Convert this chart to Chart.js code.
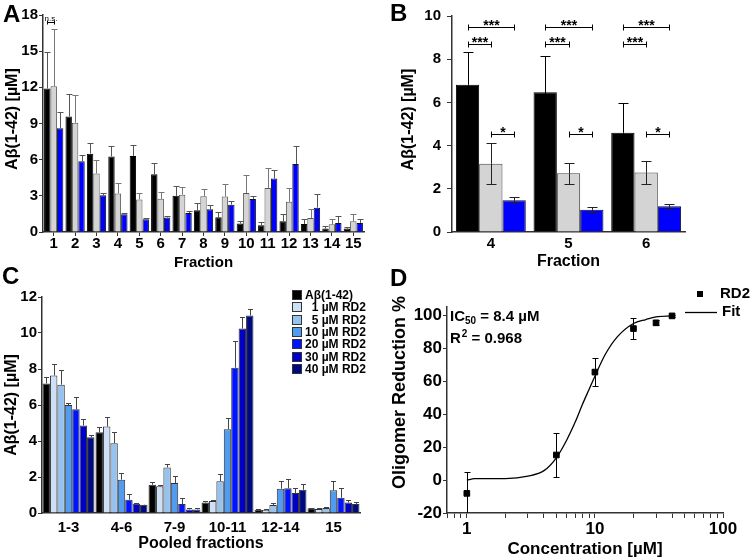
<!DOCTYPE html>
<html><head><meta charset="utf-8">
<script src="https://cdn.jsdelivr.net/npm/chart.js@4/dist/chart.umd.min.js"></script>
<style>
html,body{margin:0;padding:0;background:#fff;}
#wrap{position:relative;width:750px;height:559px;overflow:hidden;background:#fff;}
canvas{position:absolute;}
.lbl{position:absolute;font:bold 24px "Liberation Sans",Arial,sans-serif;line-height:24px;color:#000;}
</style></head><body>
<div id="wrap">
<canvas id="cA" width="375" height="270" style="left:0;top:0"></canvas>
<canvas id="cB" width="375" height="270" style="left:375px;top:0"></canvas>
<canvas id="cC" width="375" height="289" style="left:0;top:270px"></canvas>
<canvas id="cD" width="375" height="289" style="left:375px;top:270px"></canvas>
<div class="lbl" style="left:3px;top:2px">A</div>
<div class="lbl" style="left:390px;top:1px">B</div>
<div class="lbl" style="left:2px;top:264px">C</div>
<div class="lbl" style="left:390px;top:266px">D</div>
</div>
<script>
// ---------- Panel A ----------
const fractionsA = ['1','2','3','4','5','6','7','8','9','10','11','12','13','14','15'];
const abA     = [11.9, 9.58, 6.5, 6.26, 6.3, 4.8, 3.0, 1.8, 1.22, 0.7, 0.55, 0.89, 0.66, 0.28, 0.28];
const abAErr  = [3.0, 1.9, 0.9, 0.84, 0.95, 0.95, 0.8, 0.6, 0.44, 0.2, 0.25, 0.58, 0.39, 0.22, 0.14];
const grayA   = [12.1, 9.06, 4.85, 3.2, 2.7, 2.75, 3.1, 2.96, 2.94, 3.24, 3.66, 2.5, 1.16, 0.64, 0.89];
const grayAErr= [4.7, 2.34, 1.15, 0.9, 0.55, 0.55, 0.65, 0.61, 1.06, 1.52, 1.69, 1.16, 0.72, 0.41, 0.63];
const blueA   = [8.6, 5.87, 3.05, 1.47, 1.05, 1.2, 1.58, 1.88, 2.27, 2.74, 4.43, 5.65, 2.02, 0.75, 0.75];
const blueAErr= [1.37, 0.53, 0.2, 0.13, 0.1, 0.1, 0.17, 0.36, 0.31, 0.22, 0.69, 1.47, 1.11, 0.55, 0.3];

// ---------- Panel B ----------
const fractionsB = ['4','5','6'];
const abB      = [6.82, 6.47, 4.6];
const abBErr   = [1.51, 1.66, 1.37];
const grayB    = [3.16, 2.72, 2.75];
const grayBErr = [0.95, 0.49, 0.54];
const blueB    = [1.47, 1.03, 1.19];
const blueBErr = [0.15, 0.12, 0.12];

// ---------- Panel C ----------
const pooled = ['1-3','4-6','7-9','10-11','12-14','15'];
const legendC = ['A\u03b2(1-42)','  1 \u00b5M RD2','  5 \u00b5M RD2','10 \u00b5M RD2','20 \u00b5M RD2','30 \u00b5M RD2','40 \u00b5M RD2'];
const cAb    = [7.2, 4.49, 1.57, 0.59, 0.18, 0.26];
const cAbErr = [0.37, 0.31, 0.13, 0.09, 0.04, 0.04];
const c1     = [7.64, 4.8, 1.48, 0.66, 0.18, 0.22];
const c1Err  = [0.66, 0.55, 0.07, 0.08, 0.03, 0.08];
const c5     = [7.13, 3.88, 2.53, 1.77, 0.44, 0.28];
const c5Err  = [0.81, 0.62, 0.2, 0.41, 0.11, 0.05];
const c10    = [6.0, 1.85, 1.66, 4.65, 1.35, 1.26];
const c10Err = [0.13, 0.4, 0.41, 0.65, 0.44, 0.53];
const c20    = [5.76, 0.74, 0.5, 8.07, 1.37, 0.85];
const c20Err = [0.7, 0.31, 0.31, 1.47, 0.51, 0.53];
const c30    = [4.86, 0.52, 0.2, 10.25, 1.11, 0.59];
const c30Err = [0.34, 0.03, 0.06, 0.65, 0.27, 0.15];
const c40    = [4.21, 0.46, 0.2, 10.97, 1.29, 0.5];
const c40Err = [0.15, 0.01, 0.06, 0.35, 0.31, 0.11];

// ---------- Panel D ----------
const concD   = [1, 5, 10, 20, 30, 40];
const reduceD = [-8.1, 15.2, 65.5, 91.9, 95.4, 99.6];
const reduceDErr = [13.1, 13.3, 8.3, 6.3, 1.5, 0.6];
const fitX = [1, 1.15, 2, 3, 4, 5, 6, 7, 8, 9, 10, 12, 15, 20, 25, 30, 40];
const fitY = [0, 0.8, 0.9, 2.4, 5.7, 13.5, 24, 35, 46, 55, 63, 76, 87, 95, 97.4, 99, 99.6];
const xTicksD = [0.7,0.8,0.9,1,2,3,4,5,6,7,8,9,10,20,30,40,50,60,70,80,90,100];
const xLabelsD = [1, 10, 100];
const icText = ['IC', '50', ' = 8.4 \u00b5M'];
const r2Text = ['R', '2', ' = 0.968'];

const FF = '"Liberation Sans", Arial, sans-serif';
Chart.defaults.font.family = FF;
Chart.defaults.font.weight = 'bold';
Chart.defaults.color = '#000';

function fix(w, h) {
  return s => {
    if (w != null) s.width = w;
    if (h != null) s.height = h;
    s.paddingLeft = 0; s.paddingRight = 0; s.paddingTop = 0; s.paddingBottom = 0;
  };
}

const errorBars = {
  id: 'errorBars',
  afterDatasetsDraw(chart) {
    const ctx = chart.ctx, ys = chart.scales.y, a = chart.chartArea;
    ctx.save();
    ctx.beginPath(); ctx.rect(a.left, a.top - 2, a.right - a.left, a.bottom - a.top + 2); ctx.clip();
    chart.data.datasets.forEach((ds, di) => {
      if (!ds.err) return;
      const meta = chart.getDatasetMeta(di);
      ctx.strokeStyle = ds.errColor || '#000';
      ctx.lineWidth = ds.errWidth || 1;
      meta.data.forEach((el, i) => {
        const e = ds.err[i];
        if (e == null) return;
        const raw = ds.data[i];
        const v = (typeof raw === 'object') ? raw.y : raw;
        const x = Math.round(el.x) + 0.5;
        const y0 = ys.getPixelForValue(v);
        const yu = Math.round(ys.getPixelForValue(v + e)) + 0.5;
        const yl = Math.round(ys.getPixelForValue(v - e)) + 0.5;
        const cap = ds.errCap || 3;
        ctx.beginPath();
        ctx.moveTo(x, y0); ctx.lineTo(x, yu);
        ctx.moveTo(x - cap, yu); ctx.lineTo(x + cap, yu);
        if (ds.errBoth) {
          ctx.moveTo(x, y0); ctx.lineTo(x, yl);
          ctx.moveTo(x - cap, yl); ctx.lineTo(x + cap, yl);
        }
        ctx.stroke();
      });
    });
    ctx.restore();
  }
};

function makeSig(items) {
  return {
    id: 'sig',
    afterDatasetsDraw(chart) {
      const ys = chart.scales.y, ctx = chart.ctx;
      ctx.save();
      ctx.strokeStyle = '#000'; ctx.fillStyle = '#000'; ctx.lineWidth = 1;
      items.forEach(it => {
        const x1 = Math.round(chart.getDatasetMeta(it.a).data[it.i].x) + 0.5;
        const x2 = Math.round(chart.getDatasetMeta(it.b).data[it.i].x) + 0.5;
        const y = Math.round(ys.getPixelForValue(it.y)) + 0.5;
        ctx.beginPath();
        ctx.moveTo(x1, y); ctx.lineTo(x2, y);
        ctx.moveTo(x1, y - it.h); ctx.lineTo(x1, y + it.h);
        ctx.moveTo(x2, y - it.h); ctx.lineTo(x2, y + it.h);
        ctx.stroke();
        ctx.font = it.font; ctx.textAlign = 'center'; ctx.textBaseline = 'alphabetic';
        ctx.fillText(it.text, (x1 + x2) / 2, y + it.dy);
      });
      ctx.restore();
    }
  };
}

const axisBorder = {color: '#333', width: 1.5};

// ---------- Chart A ----------
new Chart(document.getElementById('cA'), {
  type: 'bar',
  data: {
    labels: fractionsA,
    datasets: [
      {label: 'A\u03b2(1-42)', data: abA, err: abAErr, errColor: '#555', backgroundColor: '#000', borderColor: '#000', borderWidth: 1},
      {label: 'RD2 low', data: grayA, err: grayAErr, errColor: '#777', backgroundColor: '#d4d4d4', borderColor: '#555', borderWidth: 1},
      {label: 'RD2 high', data: blueA, err: blueAErr, errColor: '#555', backgroundColor: '#0000ff', borderColor: '#111', borderWidth: 1}
    ]
  },
  options: {
    responsive: false, animation: false, devicePixelRatio: 1,
    layout: {padding: {left: 0, top: 15, right: 11, bottom: 0}},
    datasets: {bar: {barPercentage: 1, categoryPercentage: 0.9}},
    plugins: {legend: {display: false}, tooltip: {enabled: false}},
    scales: {
      x: {
        afterFit: fix(null, 38), border: axisBorder,
        grid: {drawOnChartArea: false, offset: false, tickLength: 4, color: '#333'},
        ticks: {font: {size: 15, weight: 'bold', lineHeight: 1}, padding: 0, maxRotation: 0, autoSkip: false},
        title: {display: true, text: 'Fraction', font: {size: 15, weight: 'bold', lineHeight: 1}, padding: {top: 0, bottom: 0}}
      },
      y: {
        min: 0, max: 18, afterFit: fix(43, null), border: axisBorder,
        grid: {drawOnChartArea: false, tickLength: 4, color: '#333'},
        ticks: {stepSize: 3, font: {size: 15, weight: 'bold', lineHeight: 1}, padding: 1},
        title: {display: true, text: '  A\u03b2(1-42) [\u00b5M]', font: {size: 16, weight: 'bold', lineHeight: 1}, padding: {top: 5, bottom: 0}}
      }
    }
  },
  plugins: [errorBars, makeSig([{a: 0, b: 1, i: 0, y: 17.45, h: 2, text: 'n.s.', font: 'normal 8px ' + FF, dy: -2}])]
});

// ---------- Chart B ----------
const sigFont = 'bold 14px ' + FF;
new Chart(document.getElementById('cB'), {
  type: 'bar',
  data: {
    labels: fractionsB,
    datasets: [
      {label: 'A\u03b2(1-42)', data: abB, err: abBErr, errBoth: true, errCap: 5, errColor: '#000', backgroundColor: '#000', borderColor: '#000', borderWidth: 1},
      {label: 'RD2 low', data: grayB, err: grayBErr, errBoth: true, errCap: 5, errColor: '#222', backgroundColor: '#d4d4d4', borderColor: '#444', borderWidth: 1},
      {label: 'RD2 high', data: blueB, err: blueBErr, errBoth: true, errCap: 5, errColor: '#222', backgroundColor: '#0000ff', borderColor: '#111', borderWidth: 1}
    ]
  },
  options: {
    responsive: false, animation: false, devicePixelRatio: 1,
    layout: {padding: {left: 0, top: 16, right: 65, bottom: 0}},
    datasets: {bar: {barPercentage: 1, categoryPercentage: 0.9}},
    plugins: {legend: {display: false}, tooltip: {enabled: false}},
    scales: {
      x: {
        afterFit: fix(null, 38), border: axisBorder,
        grid: {drawOnChartArea: false, drawTicks: false},
        ticks: {font: {size: 15, weight: 'bold', lineHeight: 1}, padding: 4, maxRotation: 0},
        title: {display: true, text: 'Fraction', font: {size: 16, weight: 'bold', lineHeight: 1}, padding: {top: 0, bottom: 0}}
      },
      y: {
        min: 0, max: 10, afterFit: fix(77, null), border: axisBorder,
        grid: {drawOnChartArea: false, tickLength: 5, color: '#333'},
        ticks: {stepSize: 2, font: {size: 15, weight: 'bold', lineHeight: 1}, padding: 6},
        title: {display: true, text: '  A\u03b2(1-42) [\u00b5M]', font: {size: 16, weight: 'bold', lineHeight: 1}, padding: {top: 26, bottom: 0}}
      }
    }
  },
  plugins: [errorBars, makeSig([
    {a: 0, b: 2, i: 0, y: 9.49, h: 3, text: '***', font: sigFont, dy: 2},
    {a: 0, b: 1, i: 0, y: 8.72, h: 3, text: '***', font: sigFont, dy: 2},
    {a: 1, b: 2, i: 0, y: 4.55, h: 3, text: '*', font: sigFont, dy: 2},
    {a: 0, b: 2, i: 1, y: 9.49, h: 3, text: '***', font: sigFont, dy: 2},
    {a: 0, b: 1, i: 1, y: 8.72, h: 3, text: '***', font: sigFont, dy: 2},
    {a: 1, b: 2, i: 1, y: 4.55, h: 3, text: '*', font: sigFont, dy: 2},
    {a: 0, b: 2, i: 2, y: 9.49, h: 3, text: '***', font: sigFont, dy: 2},
    {a: 0, b: 1, i: 2, y: 8.72, h: 3, text: '***', font: sigFont, dy: 2},
    {a: 1, b: 2, i: 2, y: 4.55, h: 3, text: '*', font: sigFont, dy: 2}
  ])]
});

// ---------- Chart C ----------
const cColors = ['#000000', '#cde0f7', '#96c2f0', '#4f9cf0', '#0014ff', '#0000c8', '#000a80'];
const cSeries = [cAb, c1, c5, c10, c20, c30, c40];
const cErrs = [cAbErr, c1Err, c5Err, c10Err, c20Err, c30Err, c40Err];
const legendPluginC = {
  id: 'legendC',
  afterDraw(chart) {
    const a = chart.chartArea, ctx = chart.ctx;
    const x0 = Math.round(a.right - 68), y0 = a.top - 2;
    ctx.save();
    ctx.font = 'bold 12px ' + FF; ctx.textBaseline = 'middle'; ctx.textAlign = 'left';
    chart.data.datasets.forEach((ds, i) => {
      const y = Math.round(y0 + i * 12.3);
      ctx.fillStyle = ds.backgroundColor;
      ctx.fillRect(x0, y - 5, 10, 10);
      ctx.strokeStyle = '#333'; ctx.lineWidth = 1;
      ctx.strokeRect(x0 + 0.5, y - 4.5, 9, 9);
      ctx.fillStyle = '#000';
      ctx.fillText(ds.label, x0 + 13, y + 0.5);
    });
    ctx.restore();
  }
};
new Chart(document.getElementById('cC'), {
  type: 'bar',
  data: {
    labels: pooled,
    datasets: cSeries.map((s, i) => ({label: legendC[i], data: s, err: cErrs[i], errColor: '#444', errCap: 2.5,
      backgroundColor: cColors[i], borderColor: '#333', borderWidth: 1}))
  },
  options: {
    responsive: false, animation: false, devicePixelRatio: 1,
    layout: {padding: {left: 0, top: 27, right: 15, bottom: 0}},
    datasets: {bar: {barPercentage: 1, categoryPercentage: 0.98}},
    plugins: {legend: {display: false}, tooltip: {enabled: false}},
    scales: {
      x: {
        afterFit: fix(null, 46), border: axisBorder,
        grid: {drawOnChartArea: false, drawTicks: false},
        ticks: {font: {size: 15, weight: 'bold', lineHeight: 1}, padding: 7, maxRotation: 0},
        title: {display: true, text: 'Pooled fractions', font: {size: 16, weight: 'bold', lineHeight: 1}, padding: {top: 0, bottom: 7}}
      },
      y: {
        min: 0, max: 12, afterFit: fix(42, null), border: axisBorder,
        grid: {drawOnChartArea: false, tickLength: 4, color: '#333'},
        ticks: {stepSize: 2, font: {size: 15, weight: 'bold', lineHeight: 1}, padding: 1},
        title: {display: true, text: 'A\u03b2(1-42) [\u00b5M]', font: {size: 16, weight: 'bold', lineHeight: 1}, padding: {top: 4, bottom: 0}}
      }
    }
  },
  plugins: [errorBars, legendPluginC]
});

// ---------- Chart D ----------
const overlayD = {
  id: 'overlayD',
  afterDraw(chart) {
    const a = chart.chartArea, ctx = chart.ctx;
    ctx.save();
    ctx.fillStyle = '#000'; ctx.textBaseline = 'alphabetic'; ctx.textAlign = 'left';
    let x = a.left + 3, y = a.top + 14;
    ctx.font = 'bold 15px ' + FF; ctx.fillText(icText[0], x, y); x += ctx.measureText(icText[0]).width;
    ctx.font = 'bold 10px ' + FF; ctx.fillText(icText[1], x, y + 3); x += ctx.measureText(icText[1]).width;
    ctx.font = 'bold 15px ' + FF; ctx.fillText(icText[2], x, y);
    x = a.left + 3; y = a.top + 36;
    ctx.font = 'bold 15px ' + FF; ctx.fillText(r2Text[0], x, y); x += ctx.measureText(r2Text[0]).width + 1;
    ctx.font = 'bold 10px ' + FF; ctx.fillText(r2Text[1], x, y - 6); x += ctx.measureText(r2Text[1]).width;
    ctx.font = 'bold 15px ' + FF; ctx.fillText(r2Text[2], x, y);
    const lx = a.right;
    ctx.fillRect(Math.round(lx - 26), Math.round(a.top - 16), 6, 6);
    ctx.font = 'bold 15px ' + FF; ctx.textBaseline = 'middle';
    ctx.fillText(chart.data.datasets[0].label, lx - 3, a.top - 13);
    ctx.strokeStyle = '#000'; ctx.lineWidth = 1.3;
    ctx.beginPath(); ctx.moveTo(lx - 38, a.top + 5.5); ctx.lineTo(lx - 6, a.top + 5.5); ctx.stroke();
    ctx.fillText(chart.data.datasets[1].label, lx - 1, a.top + 5);
    ctx.restore();
  }
};
new Chart(document.getElementById('cD'), {
  type: 'scatter',
  data: {
    datasets: [
      {label: 'RD2', data: concD.map((c, i) => ({x: c, y: reduceD[i]})), err: reduceDErr, errBoth: true, errCap: 3, errColor: '#000',
        pointStyle: 'rect', pointRadius: 4, backgroundColor: '#000', borderColor: '#000'},
      {label: 'Fit', data: fitX.map((c, i) => ({x: c, y: fitY[i]})), showLine: true, pointRadius: 0,
        borderColor: '#000', borderWidth: 1.3, cubicInterpolationMode: 'monotone', fill: false}
    ]
  },
  options: {
    responsive: false, animation: false, devicePixelRatio: 1,
    layout: {padding: {left: 0, top: 37, right: 27, bottom: 0}},
    plugins: {legend: {display: false}, tooltip: {enabled: false}},
    scales: {
      x: {
        type: 'logarithmic', min: 0.7, max: 100,
        afterFit: fix(null, 46), border: axisBorder,
        afterBuildTicks: s => { s.ticks = xTicksD.map(v => ({value: v, major: xLabelsD.includes(v)})); },
        grid: {drawOnChartArea: false, tickLength: 5, color: '#333'},
        ticks: {font: {size: 17, weight: 'bold', lineHeight: 1}, padding: 3, maxRotation: 0, autoSkip: false,
          callback: v => xLabelsD.includes(v) ? String(v) : ''},
        title: {display: true, text: 'Concentration [\u00b5M]', font: {size: 17, weight: 'bold', lineHeight: 1}, padding: {top: 0, bottom: 1}}
      },
      y: {
        min: -20, max: 105, afterFit: fix(72, null), border: axisBorder,
        grid: {drawOnChartArea: false, tickLength: 4, color: '#333'},
        ticks: {stepSize: 10, includeBounds: false, font: {size: 17, weight: 'bold', lineHeight: 1}, padding: 1,
          callback: v => (Math.round(v) % 20 === 0) ? String(Math.round(v)) : ''},
        title: {display: true, text: '       Oligomer Reduction %', font: {size: 18, weight: 'bold', lineHeight: 1}, padding: {top: 16, bottom: 0}}
      }
    }
  },
  plugins: [errorBars, overlayD]
});
</script>
</body></html>
